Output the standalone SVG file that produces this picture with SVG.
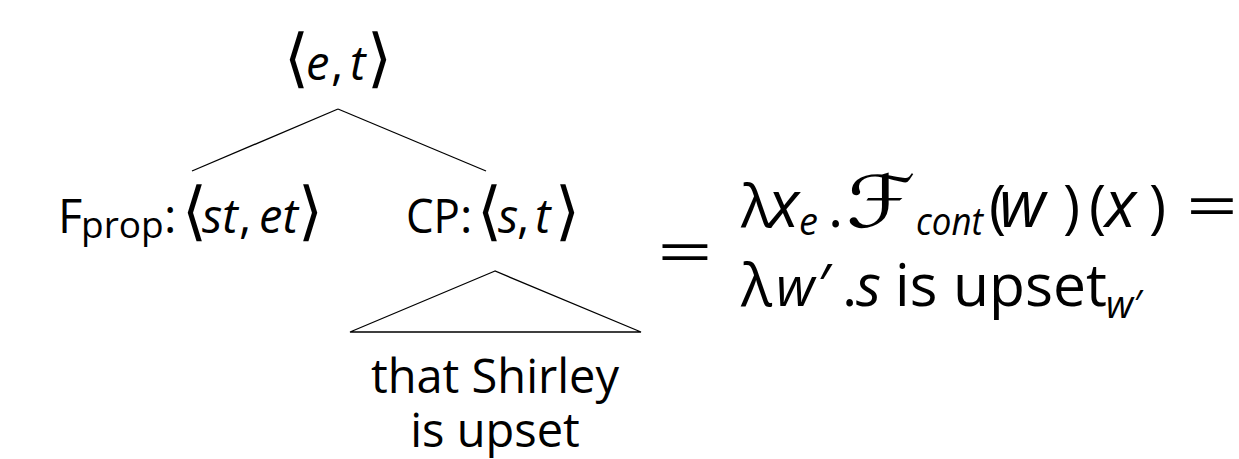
<svg xmlns="http://www.w3.org/2000/svg" width="1239" height="459" viewBox="0 0 1239 459">
<style>
text{font-family:"Open Sans","DejaVu Sans",sans-serif;fill:#000}
.n{font-size:47px}
.m{font-size:58px}
.i{font-style:italic}
.big{font-size:65px}
.w2{font-size:54px}
.br{font-family:"DejaVu Sans","Open Sans",sans-serif;font-size:64px;font-style:normal}
.sub{font-size:37px}
.msub{font-size:38px}
.scr{font-family:"DejaVu Sans",serif;font-style:italic;font-size:72px}
.edge{stroke:#000;stroke-width:1.3;fill:none}
</style>
<rect width="1239" height="459" fill="#fff"/>
<g id="connectors">
<line class="edge" x1="338" y1="109" x2="192" y2="171"/>
<line class="edge" x1="338" y1="109" x2="486" y2="171"/>
<polygon class="edge" points="495,271 350,332 641,332"/>
</g>
<g id="root">
<text class="n" y="80"><tspan class="br" x="284">⟨</tspan><tspan class="i" x="306">e</tspan><tspan x="331">,</tspan><tspan class="i" x="350">t</tspan><tspan class="br" x="367">⟩</tspan></text>
</g>
<g id="fprop">
<text class="n" y="233"><tspan x="58">F</tspan><tspan class="sub" x="81" dy="5">prop</tspan><tspan x="164" dy="-5">:</tspan><tspan class="br" x="182">⟨</tspan><tspan class="i" x="202">st</tspan><tspan x="239">,</tspan><tspan class="i" x="259">et</tspan><tspan class="br" x="298">⟩</tspan></text>
</g>
<g id="cp">
<text class="n" y="233"><tspan x="406" textLength="54" lengthAdjust="spacingAndGlyphs">CP</tspan><tspan x="460">:</tspan><tspan class="br" x="477">⟨</tspan><tspan class="i" x="498">s</tspan><tspan x="517">,</tspan><tspan class="i" x="535">t</tspan><tspan class="br" x="555">⟩</tspan></text>
</g>
<g id="leaf">
<text class="n" x="495" y="393" text-anchor="middle">that Shirley</text>
<text class="n" x="495" y="447" text-anchor="middle">is upset</text>
</g>
<g id="equals">
<text class="m" x="657" y="273" textLength="56" lengthAdjust="spacingAndGlyphs">=</text>
</g>
<g id="meaning">
<text class="m" y="227"><tspan x="741">λ</tspan><tspan class="i big" x="768">x</tspan><tspan class="msub i" x="799" dy="8">e</tspan><tspan x="828" dy="-8">.</tspan><tspan class="scr" x="846" textLength="70" lengthAdjust="spacingAndGlyphs">ℱ</tspan><tspan class="msub i" x="916" dy="8" textLength="67" lengthAdjust="spacingAndGlyphs">cont</tspan><tspan x="989" dy="-8">(</tspan><tspan class="i big" x="999">w</tspan><tspan x="1063">)</tspan><tspan x="1089">(</tspan><tspan class="i big" x="1105">x</tspan><tspan x="1149">)</tspan><tspan x="1186" textLength="52" lengthAdjust="spacingAndGlyphs">=</tspan></text>
<text class="m" y="306"><tspan x="741">λ</tspan><tspan class="i w2" x="776">w</tspan><tspan x="818">′</tspan><tspan x="842">.</tspan><tspan class="i" x="856">s</tspan><tspan x="895">is</tspan><tspan x="953" textLength="154" lengthAdjust="spacingAndGlyphs">upset</tspan><tspan class="msub i" x="1106" dy="12">w</tspan><tspan class="msub" x="1134">′</tspan></text>
</g>
</svg>
